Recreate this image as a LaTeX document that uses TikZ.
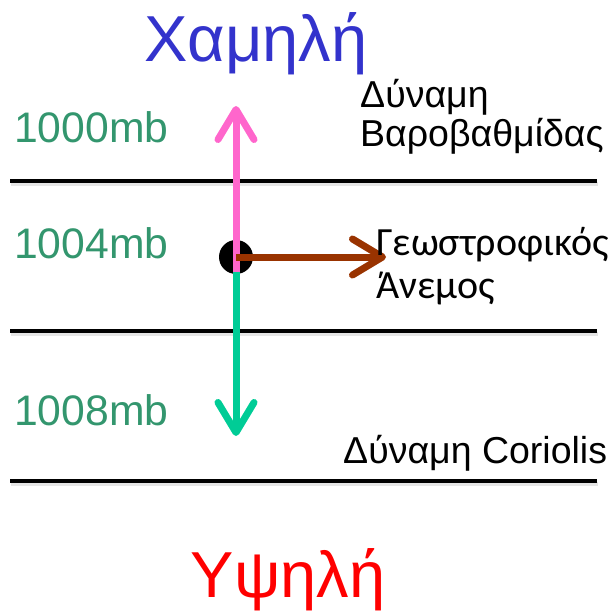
\documentclass[tikz,border=0pt]{standalone}
\usepackage{fontspec}
\setmainfont{Liberation Sans}
\newfontfamily\calfont{Carlito}
\usetikzlibrary{arrows.meta}
\definecolor{lowblue}{RGB}{51,51,204}
\definecolor{highred}{RGB}{255,0,0}
\definecolor{isogreen}{RGB}{51,150,110}
\definecolor{pgfpink}{RGB}{255,102,204}
\definecolor{corteal}{RGB}{0,204,150}
\definecolor{windbrown}{RGB}{153,51,0}
\tikzset{
  isobar/.style={line width=4pt, black},
  isoshadow/.style={line width=4pt, black!10},
  forcearrow/.style={line width=7pt, -{Straight Barb[length=30pt, width=36pt, line width=7pt, round]}},
  pressure/.style={anchor=base west, inner sep=0pt, text=isogreen, font=\fontsize{42.7}{43}\selectfont},
  label/.style={anchor=base west, inner sep=0pt, text=black, font=\fontsize{37.5}{38.5}\selectfont, align=left},
  region/.style={anchor=base, inner sep=0pt, font=\fontsize{65}{65}\selectfont}
}
\begin{document}
\begin{tikzpicture}[x=1pt, y=-1pt]
  \useasboundingbox (0,0) rectangle (615,610);

  % isobars, each with a soft shadow just below it
  \coordinate (l1a) at (10,181);  \coordinate (l1b) at (597,181);
  \coordinate (l2a) at (10,331);  \coordinate (l2b) at (597,331);
  \coordinate (l3a) at (10,481);  \coordinate (l3b) at (597,481);
  \foreach \a/\b in {l1a/l1b, l2a/l2b, l3a/l3b}{
    \draw[isoshadow] ([shift={(1,3)}]\a) -- ([shift={(1,3)}]\b);
    \draw[isobar] (\a) -- (\b);
  }

  % pressure labels
  \node[pressure] (p1000) at (14,142) {1000mb};
  \node[pressure] (p1004) at (14,258) {1004mb};
  \node[pressure] (p1008) at (14,425) {1008mb};

  % low and high
  \node[region, text=lowblue] (low) at (256,62) {Χαμηλή};
  \node[region, text=highred] (high) at (288,597) {Υψηλή};

  % air parcel and forces
  \coordinate (parcel) at (236,257);
  \coordinate (split) at (236,272);
  \coordinate (pgftip) at (236,106);
  \coordinate (cortip) at (236,436);
  \coordinate (windtip) at (386,257);
  \fill[black] (parcel) circle (17);
  \draw[forcearrow, pgfpink] (split) -- (pgftip);
  \draw[forcearrow, corteal] (split) -- (cortip);
  \draw[forcearrow, windbrown] (parcel) -- (windtip);

  % force labels (base = baseline of the last line)
  \node[label] (pgflabel) at (360,146) {Δύναμη\\Βαροβαθμίδας};
  \node[label, font=\calfont\fontsize{40}{43}\selectfont] (windlabel) at (376,298) {Γεωστροφικός\\Άνεμος};
  \node[label] (corlabel) at (343,463) {Δύναμη Coriolis};
\end{tikzpicture}
\end{document}
